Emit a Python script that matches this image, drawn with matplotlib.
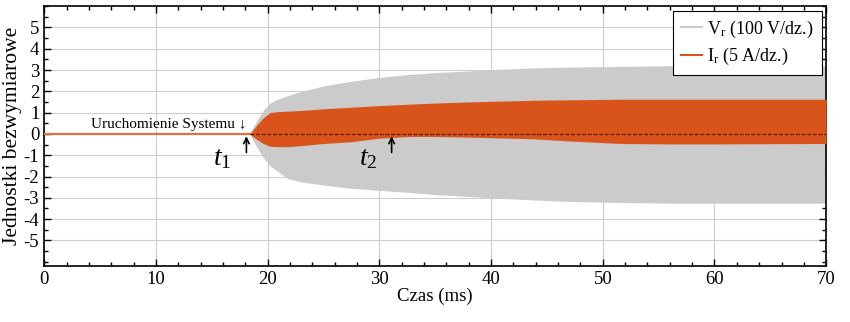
import numpy as np
import matplotlib.pyplot as plt

plt.rcParams['font.family'] = ['Liberation Serif', 'DejaVu Serif']
plt.rcParams['mathtext.fontset'] = 'custom'
plt.rcParams['mathtext.rm'] = 'Liberation Serif'
plt.rcParams['mathtext.it'] = 'Liberation Serif:italic'

# envelope (time in ms, dimensionless units)
t_env = [18.4, 19.0, 19.6, 20.2, 21.0, 21.8, 23.0, 25.0, 27.4, 30.0, 32.8, 35.0, 37.9, 40.0, 43.8, 47.0, 51.6, 56.0, 60.0, 65.0, 70.0]
v_up = [0.0, 0.6, 1.1, 1.45, 1.65, 1.8, 2.0, 2.25, 2.47, 2.65, 2.8, 2.88, 2.95, 3.02, 3.1, 3.14, 3.17, 3.2, 3.2, 3.2, 3.2]
v_lo = [0.0, -0.6, -1.1, -1.5, -1.8, -2.1, -2.25, -2.4, -2.55, -2.65, -2.75, -2.85, -2.93, -3.0, -3.1, -3.17, -3.22, -3.25, -3.25, -3.25, -3.25]
i_up = [0.0, 0.4, 0.75, 1.0, 1.05, 1.07, 1.1, 1.18, 1.25, 1.33, 1.4, 1.45, 1.5, 1.53, 1.58, 1.6, 1.63, 1.63, 1.63, 1.63, 1.63]
i_lo = [0.0, -0.25, -0.45, -0.58, -0.6, -0.6, -0.55, -0.45, -0.37, -0.2, -0.12, -0.12, -0.15, -0.18, -0.23, -0.33, -0.45, -0.47, -0.47, -0.46, -0.45]

t_start = 18.4   # Uruchomienie Systemu
t1 = 18.1
t2 = 31.1

gray = '#cbcbcb'
orange = '#d9541a'

fig = plt.figure(figsize=(8.5, 3.22), dpi=100)
ax = fig.add_axes([0.052, 0.174, 0.920, 0.807])

ax.fill_between(t_env, v_lo, v_up, color=gray, lw=0, zorder=2)
ax.fill_between(t_env, i_lo, i_up, color=orange, lw=0, zorder=3)
ax.plot([0, t_start], [0, 0], color='#e07040', lw=1.6, zorder=3)
ax.plot([t_start, 70], [0, 0], color='#5a1a00', lw=0.9, ls=(0, (3, 1.5)), zorder=4)

# legend handles
ax.plot([], [], color=gray, lw=1.5, label=r'V$_\mathrm{r}$ (100 V/dz.)')
ax.plot([], [], color=orange, lw=1.5, label=r'I$_\mathrm{r}$ (5 A/dz.)')
leg = ax.legend(loc='upper right', fontsize=13, frameon=True, fancybox=False,
                edgecolor='black', framealpha=1, borderaxespad=0.25,
                handlelength=1.15, handletextpad=0.3, borderpad=0.45, labelspacing=0.35)
leg.get_frame().set_linewidth(0.8)

ax.text(t_start - 0.3, 0.12, 'Uruchomienie Systemu \u2193', ha='right', va='bottom', fontsize=11)
ax.annotate('', xy=(t1, 0.02), xytext=(t1, -1.0),
            arrowprops=dict(arrowstyle='->', color='black', lw=1.2))
ax.annotate('', xy=(t2, 0.02), xytext=(t2, -1.0),
            arrowprops=dict(arrowstyle='->', color='black', lw=1.2))
ax.text(t1 - 1.3, -1.15, r'$t_{1}$', ha='right', va='center', fontsize=20)
ax.text(t2 - 1.3, -1.15, r'$t_{2}$', ha='right', va='center', fontsize=20)

ax.set_xlim(0, 70)
ax.set_ylim(-6.2, 6)
ax.set_xticks(np.arange(0, 71, 10))
ax.set_xticks(np.arange(0, 71, 2), minor=True)
ax.set_yticks(np.arange(-5, 6, 1))
ax.set_yticks(np.arange(-6, 6.01, 0.5), minor=True)
ax.set_yticklabels([str(v) for v in range(-5, 6)])
ax.tick_params(which='both', direction='in', top=True, right=True, labelsize=13.5)
ax.tick_params(which='major', length=5, width=1)
ax.tick_params(which='minor', length=3, width=1)
ax.grid(True, which='major', color='#cdcdcd', lw=0.8)
ax.set_axisbelow(True)
for s in ax.spines.values():
    s.set_linewidth(1.2)

ax.set_xlabel('Czas (ms)', fontsize=13.5, labelpad=0)
ax.set_ylabel('Jednostki bezwymiarowe', fontsize=15.5, labelpad=1)

fig.savefig('out.png', dpi=100)
